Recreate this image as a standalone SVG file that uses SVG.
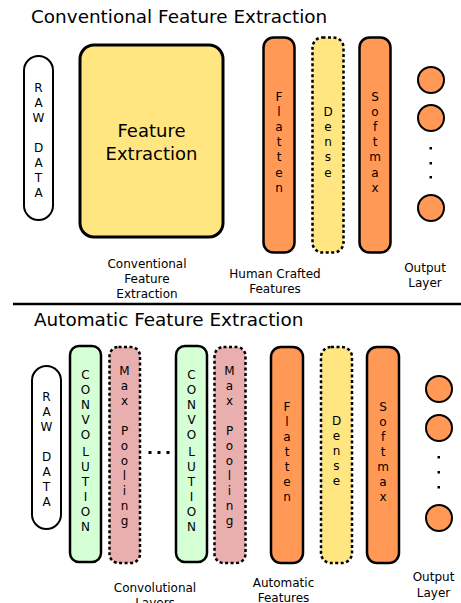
<svg xmlns="http://www.w3.org/2000/svg" width="461" height="603" viewBox="0 0 461 603">
<style>
text{font-family:"DejaVu Sans",Verdana,sans-serif;fill:#000}
.title{font-size:18.4px}
.lbl{font-size:12px;text-anchor:middle}
.v{font-size:12px;text-anchor:middle}
.raw{fill:#fff;stroke:#000;stroke-width:2}
.org{fill:#ff9955;stroke:#000;stroke-width:2.5}
.yel{fill:#ffe680;stroke:#000;stroke-width:2.5;stroke-dasharray:3 2.5}
.grn{fill:#d5ffd5;stroke:#000;stroke-width:2.5}
.pnk{fill:#e9afaf;stroke:#000;stroke-width:2.5;stroke-dasharray:3 2.5}
.out{fill:#ff9955;stroke:#000;stroke-width:2}
.dot{fill:#000}
</style>
<rect width="461" height="603" fill="#fff"/>
<text class="title" x="31" y="23">Conventional Feature Extraction</text>
<text class="title" x="34" y="326">Automatic Feature Extraction</text>
<g id="separator"><line x1="13" y1="304" x2="461" y2="304" stroke="#000" stroke-width="2.5"/></g>
<g id="connectors"></g>

<!-- Top section -->
<g id="top-raw">
<rect class="raw" x="24" y="56" width="29" height="164" rx="14.5"/>
<text class="v"><tspan x="38.5" y="92">R</tspan><tspan x="38.5" y="107">A</tspan><tspan x="38.5" y="122">W</tspan><tspan x="38.5" y="152">D</tspan><tspan x="38.5" y="167">A</tspan><tspan x="38.5" y="182">T</tspan><tspan x="38.5" y="197">A</tspan></text>
</g>
<g id="top-feature">
<rect x="80" y="45" width="143" height="192" rx="14" fill="#ffe680" stroke="#000" stroke-width="3"/>
<text x="151.5" y="137" font-size="18" text-anchor="middle">Feature</text>
<text x="151.5" y="160" font-size="18" text-anchor="middle">Extraction</text>
</g>
<g id="top-flatten">
<rect class="org" x="263.5" y="37.5" width="31" height="215" rx="10"/>
<text class="v"><tspan x="279" y="101">F</tspan><tspan x="279" y="116">l</tspan><tspan x="279" y="131">a</tspan><tspan x="279" y="146">t</tspan><tspan x="279" y="161">t</tspan><tspan x="279" y="177">e</tspan><tspan x="279" y="192">n</tspan></text>
</g>
<g id="top-dense">
<rect class="yel" x="312.5" y="37.5" width="31" height="215" rx="10"/>
<text class="v"><tspan x="328" y="116">D</tspan><tspan x="328" y="131">e</tspan><tspan x="328" y="146">n</tspan><tspan x="328" y="161">s</tspan><tspan x="328" y="177">e</tspan></text>
</g>
<g id="top-softmax">
<rect class="org" x="359.5" y="37.5" width="31" height="215" rx="10"/>
<text class="v"><tspan x="375" y="101">S</tspan><tspan x="375" y="116">o</tspan><tspan x="375" y="131">f</tspan><tspan x="375" y="146">t</tspan><tspan x="375" y="161">m</tspan><tspan x="375" y="177">a</tspan><tspan x="375" y="192">x</tspan></text>
</g>
<g id="top-output">
<circle class="out" cx="431" cy="80" r="13"/>
<circle class="out" cx="431" cy="118" r="13"/>
<circle class="out" cx="431" cy="208" r="13"/>
<rect class="dot" x="429.5" y="147" width="2.5" height="2.5"/>
<rect class="dot" x="429.5" y="162" width="2.5" height="2.5"/>
<rect class="dot" x="429.5" y="176" width="2.5" height="2.5"/>
</g>
<g id="top-labels">
<text class="lbl"><tspan x="147" y="268">Conventional</tspan><tspan x="147" y="283">Feature</tspan><tspan x="147" y="298">Extraction</tspan></text>
<text class="lbl"><tspan x="275" y="278">Human Crafted</tspan><tspan x="275" y="293">Features</tspan></text>
<text class="lbl"><tspan x="425" y="272">Output</tspan><tspan x="425" y="287">Layer</tspan></text>
</g>

<!-- Bottom section -->
<g id="bot-raw">
<rect class="raw" x="32" y="366" width="29" height="163" rx="14.5"/>
<text class="v"><tspan x="46.5" y="401">R</tspan><tspan x="46.5" y="416">A</tspan><tspan x="46.5" y="431">W</tspan><tspan x="46.5" y="461">D</tspan><tspan x="46.5" y="476">A</tspan><tspan x="46.5" y="491">T</tspan><tspan x="46.5" y="506">A</tspan></text>
</g>
<g id="bot-conv1">
<rect class="grn" x="70" y="346" width="31" height="216" rx="9"/>
<text class="v"><tspan x="85.5" y="379">C</tspan><tspan x="85.5" y="394">O</tspan><tspan x="85.5" y="409">N</tspan><tspan x="85.5" y="424">V</tspan><tspan x="85.5" y="439">O</tspan><tspan x="85.5" y="456">L</tspan><tspan x="85.5" y="471">U</tspan><tspan x="85.5" y="486">T</tspan><tspan x="85.5" y="501">I</tspan><tspan x="85.5" y="516">O</tspan><tspan x="85.5" y="531">N</tspan></text>
</g>
<g id="bot-pool1">
<rect class="pnk" x="109.5" y="347" width="30.5" height="216" rx="9"/>
<text class="v"><tspan x="124.5" y="375">M</tspan><tspan x="124.5" y="390">a</tspan><tspan x="124.5" y="405">x</tspan><tspan x="124.5" y="435">P</tspan><tspan x="124.5" y="450">o</tspan><tspan x="124.5" y="465">o</tspan><tspan x="124.5" y="480">l</tspan><tspan x="124.5" y="495">i</tspan><tspan x="124.5" y="510">n</tspan><tspan x="124.5" y="525">g</tspan></text>
</g>
<g id="bot-ellipsis">
<rect class="dot" x="148.5" y="451" width="3" height="3"/>
<rect class="dot" x="157.5" y="451" width="3" height="3"/>
<rect class="dot" x="166.5" y="451" width="3" height="3"/>
</g>
<g id="bot-conv2">
<rect class="grn" x="176" y="346" width="31" height="216" rx="9"/>
<text class="v"><tspan x="191.5" y="379">C</tspan><tspan x="191.5" y="394">O</tspan><tspan x="191.5" y="409">N</tspan><tspan x="191.5" y="424">V</tspan><tspan x="191.5" y="439">O</tspan><tspan x="191.5" y="456">L</tspan><tspan x="191.5" y="471">U</tspan><tspan x="191.5" y="486">T</tspan><tspan x="191.5" y="501">I</tspan><tspan x="191.5" y="516">O</tspan><tspan x="191.5" y="531">N</tspan></text>
</g>
<g id="bot-pool2">
<rect class="pnk" x="214.5" y="347" width="31" height="216" rx="9"/>
<text class="v"><tspan x="229.5" y="375">M</tspan><tspan x="229.5" y="390">a</tspan><tspan x="229.5" y="405">x</tspan><tspan x="229.5" y="435">P</tspan><tspan x="229.5" y="450">o</tspan><tspan x="229.5" y="465">o</tspan><tspan x="229.5" y="480">l</tspan><tspan x="229.5" y="495">i</tspan><tspan x="229.5" y="510">n</tspan><tspan x="229.5" y="525">g</tspan></text>
</g>
<g id="bot-flatten">
<rect class="org" x="271" y="347" width="32" height="216" rx="10"/>
<text class="v"><tspan x="287" y="411">F</tspan><tspan x="287" y="426">l</tspan><tspan x="287" y="441">a</tspan><tspan x="287" y="456">t</tspan><tspan x="287" y="471">t</tspan><tspan x="287" y="486">e</tspan><tspan x="287" y="501">n</tspan></text>
</g>
<g id="bot-dense">
<rect class="yel" x="321" y="347" width="31" height="216" rx="10"/>
<text class="v"><tspan x="336.5" y="425">D</tspan><tspan x="336.5" y="440">e</tspan><tspan x="336.5" y="455">n</tspan><tspan x="336.5" y="470">s</tspan><tspan x="336.5" y="485">e</tspan></text>
</g>
<g id="bot-softmax">
<rect class="org" x="367" y="347" width="32" height="216" rx="10"/>
<text class="v"><tspan x="383" y="411">S</tspan><tspan x="383" y="426">o</tspan><tspan x="383" y="441">f</tspan><tspan x="383" y="456">t</tspan><tspan x="383" y="471">m</tspan><tspan x="383" y="486">a</tspan><tspan x="383" y="501">x</tspan></text>
</g>
<g id="bot-output">
<circle class="out" cx="439" cy="389" r="13"/>
<circle class="out" cx="439" cy="428" r="13"/>
<circle class="out" cx="439" cy="518" r="13"/>
<rect class="dot" x="437.5" y="456" width="2.5" height="2.5"/>
<rect class="dot" x="437.5" y="471" width="2.5" height="2.5"/>
<rect class="dot" x="437.5" y="486" width="2.5" height="2.5"/>
</g>
<g id="bot-labels">
<text class="lbl"><tspan x="155" y="592">Convolutional</tspan><tspan x="155" y="607">Layers</tspan></text>
<text class="lbl"><tspan x="283.5" y="587">Automatic</tspan><tspan x="283.5" y="602">Features</tspan></text>
<text class="lbl"><tspan x="433.5" y="581">Output</tspan><tspan x="433.5" y="597">Layer</tspan></text>
</g>
</svg>
